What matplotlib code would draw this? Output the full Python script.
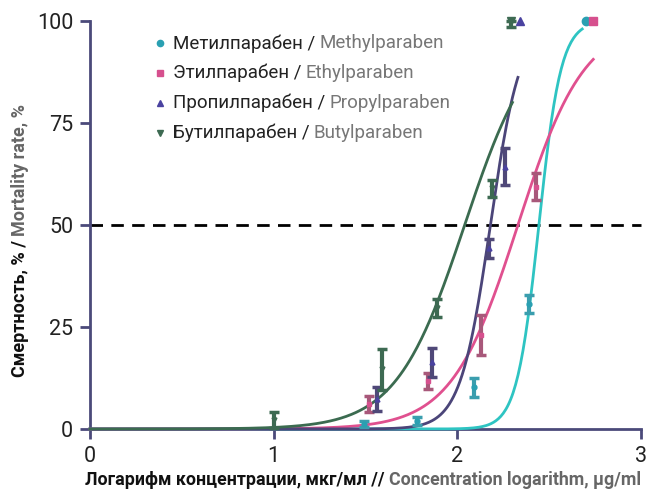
import numpy as np
import matplotlib
matplotlib.use("Agg")
import matplotlib.pyplot as plt

plt.rcParams['font.family'] = ['Roboto', 'DejaVu Sans']

# ---- data ----
names_ru = ["Метилпарабен", "Этилпарабен", "Пропилпарабен", "Бутилпарабен"]
names_en = ["Methylparaben", "Ethylparaben", "Propylparaben", "Butylparaben"]

methyl_x = [1.49, 1.78, 2.09, 2.39]
methyl_y = [1.2, 2.0, 10.2, 30.6]
methyl_err = [0.8, 1.0, 2.4, 2.2]
methyl_full_x = [2.70]

ethyl_x = [1.52, 1.84, 2.13, 2.43]
ethyl_y = [6.1, 11.7, 23.0, 59.4]
ethyl_err = [2.0, 2.0, 4.9, 3.3]
ethyl_full_x = [2.74]

propyl_x = [1.56, 1.86, 2.17, 2.26]
propyl_y = [7.4, 16.3, 44.3, 64.3]
propyl_err = [3.0, 3.6, 2.3, 4.5]
propyl_full_x = [2.34]

butyl_x = [1.0, 1.59, 1.89, 2.19]
butyl_y = [2.2, 14.6, 29.7, 59.0]
butyl_err = [2.0, 5.0, 2.2, 2.1]
butyl_full_x = [2.29]

# fitted dose-response parameters (log EC50, Hill slope, curve end)
fit_logec50 = [2.444, 2.33, 2.18, 2.04]
fit_hill = [7.2, 2.4, 5.3, 2.32]
fit_xend = [2.68, 2.74, 2.33, 2.30]

xticks = [0, 1, 2, 3]
yticks = [0, 25, 50, 75, 100]

# ---- styles ----
curve_colors = ["#2ec4c2", "#e0508f", "#4b4579", "#3b6b50"]
err_colors = ["#3a9eae", "#a8587a", "#4f4878", "#3d6a52"]
marker_colors = ["#2aa0b2", "#d6508e", "#4a42a0", "#3d6a52"]
markers = ["o", "s", "^", "v"]
axis_color = "#4b4a7a"

fig = plt.figure(figsize=(6.46, 4.92), dpi=100)
ax = fig.add_axes([90/646, 63/492, 551/646, 408/492])

series = [
    (methyl_x, methyl_y, methyl_err, methyl_full_x),
    (ethyl_x, ethyl_y, ethyl_err, ethyl_full_x),
    (propyl_x, propyl_y, propyl_err, propyl_full_x),
    (butyl_x, butyl_y, butyl_err, butyl_full_x),
]

ax.plot([0, 3], [50, 50], color="black", lw=2, ls=(0, (4.5, 3)), zorder=2, clip_on=False)

for i, (xs, ys, es, fx) in enumerate(series):
    xc = np.linspace(0, fit_xend[i], 400)
    yc = 100.0 / (1.0 + 10 ** ((fit_logec50[i] - xc) * fit_hill[i]))
    ax.plot(xc, yc, color=curve_colors[i], lw=2, zorder=3, clip_on=False)
    ax.errorbar(xs, ys, yerr=es, fmt='none', ecolor=err_colors[i], elinewidth=3,
                capsize=3.5, capthick=2.5, zorder=4, clip_on=False)
    ax.plot(xs, ys, ls='none', marker=markers[i], ms=3.5, color=marker_colors[i],
            zorder=5, clip_on=False)
    ax.plot(fx, [100] * len(fx), ls='none', marker=markers[i], ms=6,
            color=marker_colors[i], zorder=5, clip_on=False)

# extra "I" mark for butyl at 100
ax.errorbar(butyl_full_x, [99.3], yerr=[0.8], fmt='none', ecolor=err_colors[3],
            elinewidth=3, capsize=3.5, capthick=2.5, zorder=4, clip_on=False)

ax.set_xlim(0, 3)
ax.set_ylim(0, 100)
ax.set_xticks(xticks)
ax.set_yticks(yticks)
for s in ["top", "right"]:
    ax.spines[s].set_visible(False)
for s in ["left", "bottom"]:
    ax.spines[s].set_color(axis_color)
    ax.spines[s].set_linewidth(2)
ax.tick_params(axis='both', colors=axis_color, width=2, length=7, labelsize=15.5,
               labelcolor="#222222", direction='out')
ax.tick_params(axis='x', pad=5)
ax.tick_params(axis='y', pad=5)

# legend (manual, two-colour labels)
leg_y0 = 0.945
dy = 0.073
for i in range(4):
    yy = leg_y0 - i * dy
    ax.plot([0.127], [yy], transform=ax.transAxes, marker=markers[i], ms=4.5,
            color=marker_colors[i], ls='none', clip_on=False)
    t1 = ax.text(0.150, yy, names_ru[i] + " / ", transform=ax.transAxes,
                 fontsize=13.5, color="#222222", va='center', ha='left')
    ax.annotate(names_en[i], xy=(1, 0.5), xycoords=t1, va='center', ha='left',
                fontsize=13.5, color="#777777")

# axis labels (two-colour)
xl1 = fig.text(85/646, 12/492, "Логарифм концентрации, мкг/мл // ", fontsize=12.8,
               fontweight='bold', color="#111111", ha='left', va='center')
fig.add_artist(plt.Annotation("Concentration logarithm, μg/ml", xy=(1, 0.5), xycoords=xl1,
               va='center', ha='left', fontsize=12.8, fontweight='bold', color="#666666",
               annotation_clip=False))

yl1 = fig.text(20/646, 115/492, "Смертность, % / ", fontsize=13, fontweight='bold',
               color="#111111", rotation=90, ha='center', va='bottom')
fig.add_artist(plt.Annotation("Mortality rate, %", xy=(0.5, 1), xycoords=yl1, va='bottom',
               ha='center', rotation=90, fontsize=13, fontweight='bold', color="#666666",
               annotation_clip=False))

fig.savefig("out.png", dpi=100)
